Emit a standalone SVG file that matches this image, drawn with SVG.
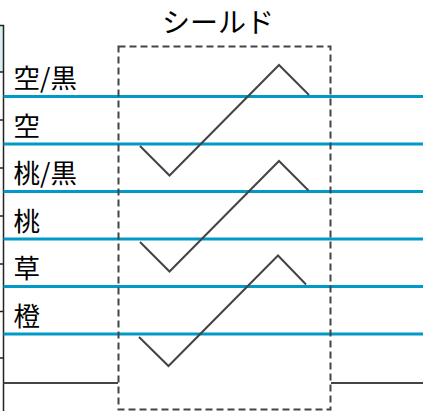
<svg xmlns="http://www.w3.org/2000/svg" width="423" height="411" viewBox="0 0 423 411">
<style>
.lbl{font-family:"Noto Sans CJK JP","Noto Sans",sans-serif;font-size:26.5px;fill:#000}
.ttl{font-size:28px}
.wire{stroke:#0099c8;stroke-width:3;fill:none}
.gray{stroke:#444;stroke-width:2;fill:none}
.tbl{stroke:#222;stroke-width:1.5;fill:none}
</style>
<rect width="423" height="411" fill="#fff"/>
<g id="table">
<rect x="0" y="25" width="3.5" height="47" fill="#d8eef2"/>
<path class="tbl" d="M0 25.5H3.5V411M0 72H3.5M0 120H3.5M0 168H3.5M0 216H3.5M0 264H3.5M0 311.5H3.5M0 358H3.5"/>
</g>
<g id="labels">
<text class="lbl" x="13.5" y="88">空/黒</text>
<text class="lbl" x="13.5" y="135.5">空</text>
<text class="lbl" x="13.5" y="183">桃/黒</text>
<text class="lbl" x="13.5" y="230.5">桃</text>
<text class="lbl" x="13.5" y="278">草</text>
<text class="lbl" x="13.5" y="325.5">橙</text>
</g>
<g id="connectors">
<path class="wire" d="M3.5 96.5H423M3.5 144H423M3.5 191.5H423M3.5 239H423M3.5 286.5H423M3.5 334H423"/>
<path class="gray" d="M3.5 383H118M331 383H423"/>
<polyline class="gray" points="140,146 169.5,175.5 279,65 309,95"/>
<polyline class="gray" points="140,242 169.5,271.5 279,161 308.5,190.5"/>
<polyline class="gray" points="139,337 168.5,366 278,255.5 306,284.5"/>
</g>
<g id="shield">
<rect x="118.5" y="46.5" width="212" height="363" fill="none" stroke="#444" stroke-width="2" stroke-dasharray="7,4"/>
<text class="lbl ttl" x="218" y="33" text-anchor="middle">シールド</text>
</g>
</svg>
